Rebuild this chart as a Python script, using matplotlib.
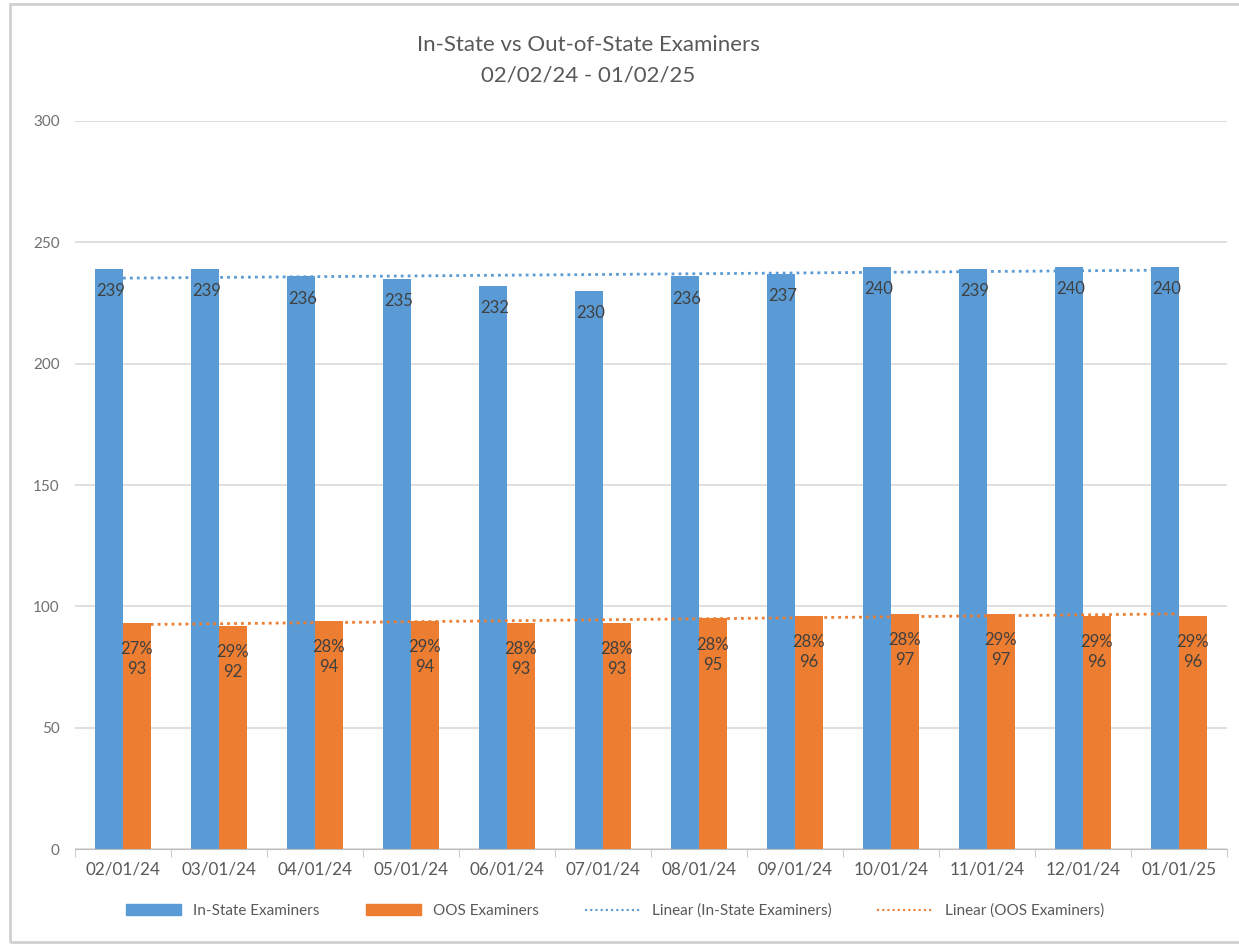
import numpy as np
import matplotlib
matplotlib.use("Agg")
import matplotlib.pyplot as plt
from matplotlib.patches import Rectangle
from matplotlib.lines import Line2D
from matplotlib.patches import Patch

plt.rcParams['font.family'] = ['Lato', 'DejaVu Sans']

months = ["02/01/24", "03/01/24", "04/01/24", "05/01/24", "06/01/24", "07/01/24",
          "08/01/24", "09/01/24", "10/01/24", "11/01/24", "12/01/24", "01/01/25"]
in_state = [239, 239, 236, 235, 232, 230, 236, 237, 240, 239, 240, 240]
oos = [93, 92, 94, 94, 93, 93, 95, 96, 97, 97, 96, 96]
oos_pct = [27, 29, 28, 29, 28, 28, 28, 28, 28, 29, 29, 29]

blue = "#5B9BD5"
orange = "#ED7D31"
txt = "#595959"
lbl = "#404040"

fig = plt.figure(figsize=(12.39, 9.46), dpi=100)
ax = fig.add_axes([75 / 1239, 97 / 946, 1152 / 1239, 728 / 946])

x = np.arange(len(months))
w = 0.29
ax.bar(x - w / 2, in_state, w, color=blue, zorder=2)
ax.bar(x + w / 2, oos, w, color=orange, zorder=2)

# linear trendlines, like excel does
for vals, c in [(in_state, blue), (oos, orange)]:
    k, b = np.polyfit(x, vals, 1)
    ax.plot(x, k * x + b, linestyle=(0, (1, 1.5)), color=c, lw=2, zorder=3)

for i in range(len(months)):
    ax.annotate(str(in_state[i]), (x[i] - w / 2, in_state[i]), xytext=(1, -16),
                textcoords="offset points", ha="center", va="center",
                fontsize=12, color=lbl, zorder=4)
    ax.annotate("{}%\n{}".format(oos_pct[i], oos[i]), (x[i] + w / 2, oos[i]),
                xytext=(0, -26), textcoords="offset points", ha="center", va="center",
                fontsize=12, color=lbl, linespacing=1.3, zorder=4)

ax.set_xlim(-0.5, len(months) - 0.5)
ax.set_ylim(0, 300)
ax.set_yticks(range(0, 301, 50))
ax.set_xticks(x)
ax.set_xticklabels(months)
ax.set_xticks(np.arange(-0.5, len(months), 1), minor=True)
ax.yaxis.grid(True, color="#D9D9D9", lw=1.2, zorder=0)
ax.set_axisbelow(True)
for s in ["top", "right", "left"]:
    ax.spines[s].set_visible(False)
ax.spines["bottom"].set_color("#BFBFBF")
ax.tick_params(axis="y", length=0, pad=11, labelsize=11, labelcolor="#707070")
ax.tick_params(axis="x", which="major", length=0, pad=9, labelsize=12.3, labelcolor=txt)
ax.tick_params(axis="x", which="minor", length=6, color="#BFBFBF")

fig.text(588 / 1239, 1 - 45 / 946, "In-State vs Out-of-State Examiners", ha="center",
         va="center", fontsize=16, color=txt)
fig.text(588 / 1239, 1 - 76 / 946, "02/02/24 - 01/02/25", ha="center",
         va="center", fontsize=16, color=txt)

handles = [Patch(color=blue), Patch(color=orange),
           Line2D([], [], color=blue, linestyle=(0, (1, 1.5)), lw=1.5),
           Line2D([], [], color=orange, linestyle=(0, (1, 1.5)), lw=1.5)]
names = ["In-State Examiners", "OOS Examiners", "Linear (In-State Examiners)",
         "Linear (OOS Examiners)"]
fig.legend(handles, names, loc="center", bbox_to_anchor=(615 / 1239, 1 - 911 / 946),
           ncol=4, frameon=False, fontsize=11, labelcolor=txt, handlelength=3.6,
           handleheight=0.7, columnspacing=3.0, handletextpad=0.8)

fig.patches.append(Rectangle((10 / 1239, 4 / 946), 1.2, 938 / 946,
                             transform=fig.transFigure, fill=False,
                             edgecolor="#D0D0D0", lw=2))

fig.savefig("out.png", dpi=100)
